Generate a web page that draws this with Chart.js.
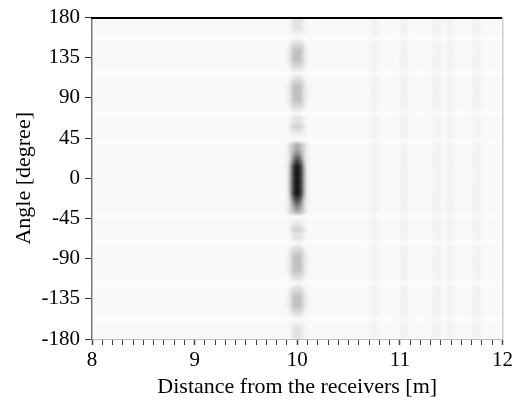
<!DOCTYPE html>
<html><head><meta charset="utf-8">
<script src="https://cdn.jsdelivr.net/npm/chart.js@4.4.1/dist/chart.umd.min.js"></script>
<style>html,body{margin:0;padding:0;background:#fff}#wrap{width:516px;height:403px}</style>
</head><body><div id="wrap"><canvas id="c" width="516" height="403"></canvas></div>
<script>
// Column boundaries along distance [m]
const distanceEdges = [8, 9.88, 9.92, 9.95, 9.98, 10.02, 10.05, 10.08, 10.12, 10.71, 10.79, 11.00, 11.08, 11.32, 11.40, 11.45, 11.53, 11.71, 11.79, 12];
// Row boundaries along angle [degree], top to bottom
const angleEdges = [180,175,170,165,160,155,150,145,140,135,130,125,120,115,110,105,100,95,90,85,80,75,70,65,60,55,50,45,40,35,30,25,20,15,10,5,0,-5,-10,-15,-20,-25,-30,-35,-40,-45,-50,-55,-60,-65,-70,-75,-80,-85,-90,-95,-100,-105,-110,-115,-120,-125,-130,-135,-140,-145,-150,-155,-160,-165,-170,-175,-180];
// Darkness level per cell (0 = lightest ... a = darkest), one string per angle row
const shadeRows = [
"1123332112121212121","1123332112121212121","1123332112121212121","1122222112121212121",
"0001110001010101010","1123332112121212121","1134443112121212121","1235553212121212121",
"1235553212121212121","1235553212121212121","1134443112121212121","1123332112121212121",
"0001110001010101010","1123332112121212121","1134443112121212121","1235553212121212121",
"1235553212121212121","1235553212121212121","1235553212121212121","1134443112121212121",
"1123332112121212121","0001110001010101010","1123332112121212121","1123332112121212121",
"1134443112121212121","1123332112121212121","1122222112121212121","0001110001010101010",
"1245654212121212121","1245654212121212121","1246764212121212121","1247874212121212121",
"1258985212121212121","1269a96212121212121","1269a96212121212121","1269a96212121212121",
"1269a96212121212121","1269a96212121212121","1269a96212121212121","1269a96212121212121",
"1258985212121212121","1247874212121212121","1246764212121212121","1245654212121212121",
"0001110001010101010","1122222112121212121","1123332112121212121","1134443112121212121",
"1123332112121212121","1123332112121212121","0001110001010101010","1123332112121212121",
"1134443112121212121","1235553212121212121","1235553212121212121","1235553212121212121",
"1235553212121212121","1134443112121212121","1123332112121212121","0001110001010101010",
"1123332112121212121","1134443112121212121","1235553212121212121","1235553212121212121",
"1235553212121212121","1134443112121212121","1123332112121212121","0001110001010101010",
"1122222112121212121","1123332112121212121","1123332112121212121","1123332112121212121"
];
const distanceTicks = [8, 9, 10, 11, 12];
const angleTicks = [-180, -135, -90, -45, 0, 45, 90, 135, 180];

const grayLevels = {'0':252,'1':249,'2':242,'3':226,'4':210,'5':192,'6':165,'7':130,'8':90,'9':50,'a':15};

const cells = [];
shadeRows.forEach((row, i) => {
  for (let j = 0; j < row.length; j++) {
    cells.push({
      x: (distanceEdges[j] + distanceEdges[j + 1]) / 2,
      y: (angleEdges[i] + angleEdges[i + 1]) / 2,
      x0: distanceEdges[j], x1: distanceEdges[j + 1],
      y0: angleEdges[i], y1: angleEdges[i + 1],
      level: row[j]
    });
  }
});

const heatmapPlugin = {
  id: 'heatmap',
  beforeDraw(chart) {
    const {ctx, chartArea: a, scales: {x, y}} = chart;
    const off = document.createElement('canvas');
    off.width = chart.width; off.height = chart.height;
    const o = off.getContext('2d');
    for (const c of chart.data.datasets[0].data) {
      const px0 = x.getPixelForValue(c.x0), px1 = x.getPixelForValue(c.x1);
      const py0 = y.getPixelForValue(c.y0), py1 = y.getPixelForValue(c.y1);
      const g = grayLevels[c.level];
      o.fillStyle = `rgb(${g},${g},${g})`;
      o.fillRect(Math.min(px0, px1), Math.min(py0, py1), Math.abs(px1 - px0) + 0.5, Math.abs(py1 - py0) + 0.5);
    }
    ctx.save();
    ctx.beginPath();
    ctx.rect(a.left, a.top, a.right - a.left, a.bottom - a.top);
    ctx.clip();
    ctx.filter = 'blur(1.6px)';
    ctx.drawImage(off, 0, 0);
    ctx.restore();
  }
};

const serif = 'Liberation Serif';
new Chart(document.getElementById('c'), {
  type: 'scatter',
  data: { datasets: [{ data: cells, pointRadius: 0, pointHoverRadius: 0, showLine: false }] },
  options: {
    responsive: false, animation: false,
    events: [],
    layout: { padding: { top: 17, right: 10, left: 0, bottom: 0 } },
    plugins: { legend: { display: false }, tooltip: { enabled: false } },
    scales: {
      x: {
        type: 'linear', position: 'bottom', min: 8, max: 12,
        ticks: {
          stepSize: 0.1, autoSkip: false, maxRotation: 0, padding: 3, color: '#000',
          font: { family: serif, size: 21 },
          callback: (v) => { const r = Math.round(v * 10) / 10; return distanceTicks.includes(r) ? String(r) : ''; }
        },
        grid: { drawOnChartArea: false, drawTicks: true, tickLength: 6, tickColor: '#444',
          tickWidth: (ctx) => { const v = ctx.tick ? Math.round(ctx.tick.value * 10) / 10 : 0; return distanceTicks.includes(v) ? 1.5 : 1; } },
        border: { display: true, color: '#bbb', width: 1 },
        title: { display: true, text: 'Distance from the receivers [m]', color: '#000',
          font: { family: serif, size: 22 }, padding: { top: 0, bottom: 3 } },
        afterFit(s) { s.height = 64; }
      },
      y: {
        type: 'linear', position: 'left', min: -180, max: 180,
        ticks: {
          stepSize: 45, padding: 5, color: '#000',
          font: { family: serif, size: 21 },
          callback: (v) => angleTicks.includes(v) ? String(v) : ''
        },
        grid: { drawOnChartArea: false, drawTicks: true, tickLength: 7, tickColor: '#333' },
        border: { display: true, color: '#777', width: 1.5 },
        title: { display: true, text: 'Angle [degree]', color: '#000',
          font: { family: serif, size: 22 }, padding: { top: 11, bottom: 0 } },
        afterFit(s) { s.width = 92; }
      },
      x2: {
        type: 'linear', position: 'top', min: 8, max: 12,
        ticks: { display: false },
        grid: { drawOnChartArea: false, drawTicks: false },
        border: { display: true, color: '#000', width: 2 },
        afterFit(s) { s.height = 0; }
      },
      y2: {
        type: 'linear', position: 'right', min: -180, max: 180,
        ticks: { display: false },
        grid: { drawOnChartArea: false, drawTicks: false },
        border: { display: true, color: '#ccc', width: 1.5 },
        afterFit(s) { s.width = 0; }
      }
    }
  },
  plugins: [heatmapPlugin]
});
</script>
</body></html>
